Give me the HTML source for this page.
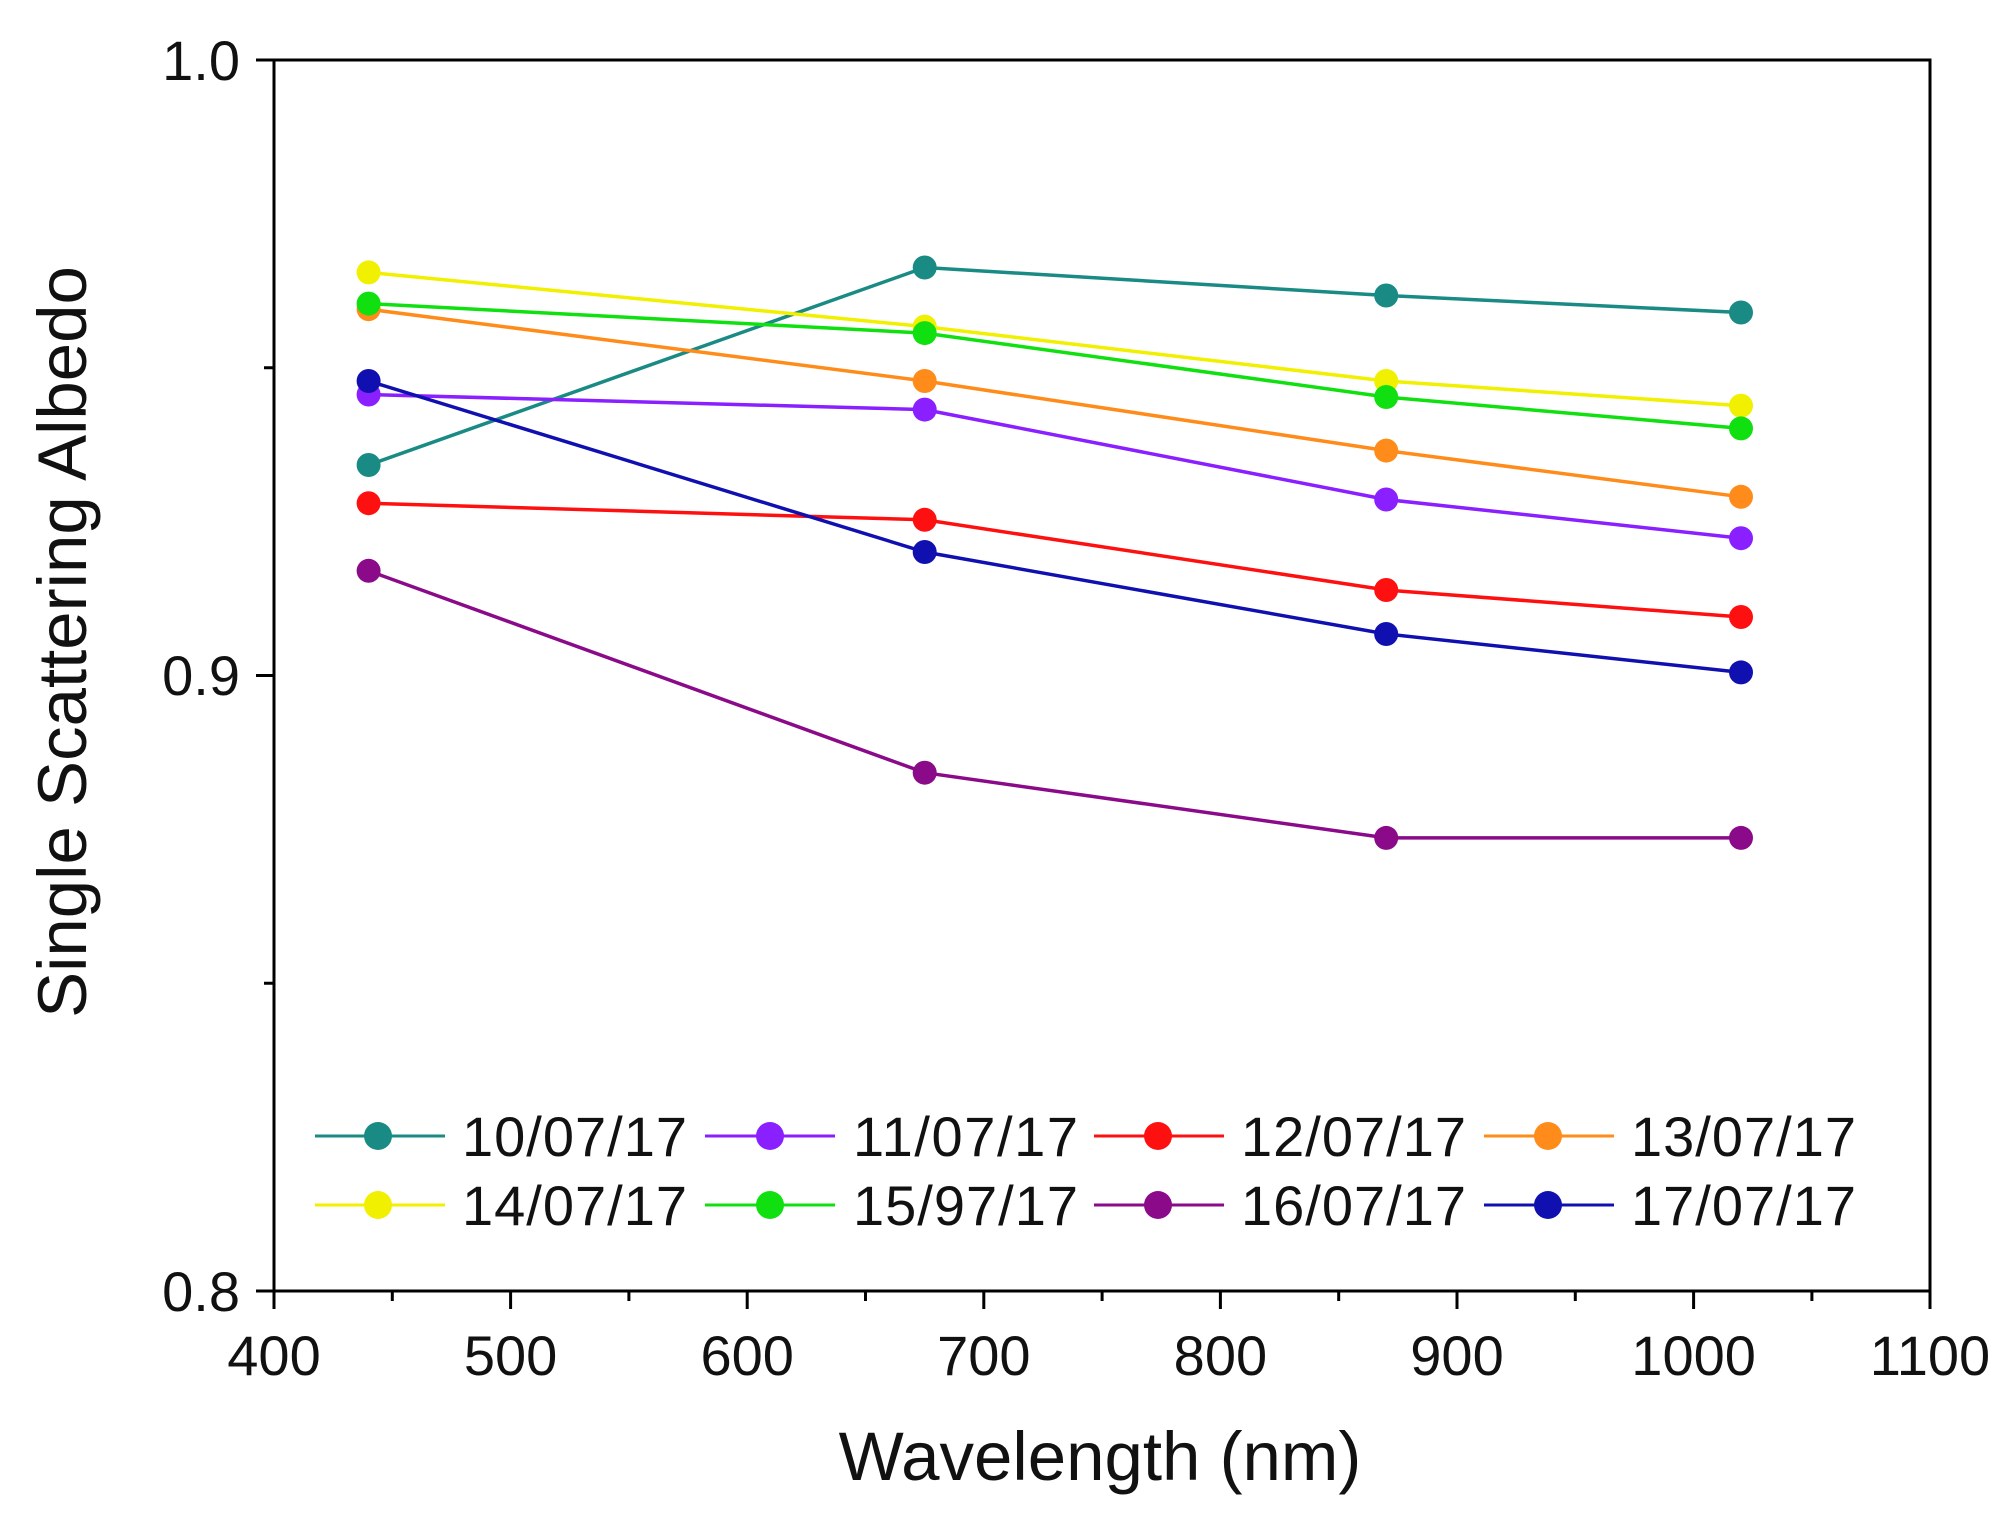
<!DOCTYPE html>
<html><head><style>html,body{margin:0;padding:0;background:#fff}</style></head><body>
<svg width="2011" height="1511" xmlns="http://www.w3.org/2000/svg" font-family="Liberation Sans, sans-serif">
<rect width="2011" height="1511" fill="#fff"/>
<g stroke="#000" stroke-width="3" fill="none">
<rect x="274" y="60" width="1656" height="1231"/>
<path d="M274 1291v18M510.6 1291v18M747.2 1291v18M983.8 1291v18M1220.4 1291v18M1457 1291v18M1693.6 1291v18M1930 1291v18"/>
<path d="M392.3 1291v10M628.9 1291v10M865.5 1291v10M1102.1 1291v10M1338.7 1291v10M1575.3 1291v10M1811.9 1291v10"/>
<path d="M256 60h18M256 675.5h18M256 1291h18M264 367.8h10M264 983.3h10"/>
</g>
<g font-size="56" fill="#111" text-anchor="end">
<text x="240" y="80">1.0</text><text x="240" y="695">0.9</text><text x="240" y="1311">0.8</text>
</g>
<g font-size="56" fill="#111" text-anchor="middle">
<text x="274" y="1375">400</text><text x="510.6" y="1375">500</text><text x="747.2" y="1375">600</text><text x="983.8" y="1375">700</text><text x="1220.4" y="1375">800</text><text x="1457" y="1375">900</text><text x="1693.6" y="1375">1000</text><text x="1930" y="1375">1100</text>
</g>
<text x="1100" y="1480" font-size="69" text-anchor="middle" fill="#111">Wavelength (nm)</text>
<text transform="translate(86,642) rotate(-90)" font-size="69" text-anchor="middle" fill="#111">Single Scattering Albedo</text>
<g stroke-width="3.5" fill="none">
<polyline stroke="#1a8a85" points="368.6,465 924.7,267.5 1386.2,295.5 1741,312.5"/>
<polyline stroke="#8a1fff" points="368.6,394.5 924.7,409.6 1386.2,499.5 1741,538.2"/>
<polyline stroke="#ff1010" points="368.6,503.2 924.7,519.8 1386.2,590 1741,617"/>
<polyline stroke="#ff8c1a" points="368.6,309.2 924.7,381 1386.2,450.6 1741,496.8"/>
<polyline stroke="#f0f000" points="368.6,272.4 924.7,326.6 1386.2,381 1741,405.7"/>
<polyline stroke="#10e010" points="368.6,303.6 924.7,333.1 1386.2,397 1741,428.4"/>
<polyline stroke="#8a0a8a" points="368.6,570.8 924.7,772.7 1386.2,837.9 1741,837.9"/>
<polyline stroke="#1010b0" points="368.6,381 924.7,552 1386.2,634 1741,672.4"/>
</g>
<g>
<g fill="#1a8a85"><circle cx="368.6" cy="465" r="12"/><circle cx="924.7" cy="267.5" r="12"/><circle cx="1386.2" cy="295.5" r="12"/><circle cx="1741" cy="312.5" r="12"/></g>
<g fill="#8a1fff"><circle cx="368.6" cy="394.5" r="12"/><circle cx="924.7" cy="409.6" r="12"/><circle cx="1386.2" cy="499.5" r="12"/><circle cx="1741" cy="538.2" r="12"/></g>
<g fill="#ff1010"><circle cx="368.6" cy="503.2" r="12"/><circle cx="924.7" cy="519.8" r="12"/><circle cx="1386.2" cy="590" r="12"/><circle cx="1741" cy="617" r="12"/></g>
<g fill="#ff8c1a"><circle cx="368.6" cy="309.2" r="12"/><circle cx="924.7" cy="381" r="12"/><circle cx="1386.2" cy="450.6" r="12"/><circle cx="1741" cy="496.8" r="12"/></g>
<g fill="#f0f000"><circle cx="368.6" cy="272.4" r="12"/><circle cx="924.7" cy="326.6" r="12"/><circle cx="1386.2" cy="381" r="12"/><circle cx="1741" cy="405.7" r="12"/></g>
<g fill="#10e010"><circle cx="368.6" cy="303.6" r="12"/><circle cx="924.7" cy="333.1" r="12"/><circle cx="1386.2" cy="397" r="12"/><circle cx="1741" cy="428.4" r="12"/></g>
<g fill="#8a0a8a"><circle cx="368.6" cy="570.8" r="12"/><circle cx="924.7" cy="772.7" r="12"/><circle cx="1386.2" cy="837.9" r="12"/><circle cx="1741" cy="837.9" r="12"/></g>
<g fill="#1010b0"><circle cx="368.6" cy="381" r="12"/><circle cx="924.7" cy="552" r="12"/><circle cx="1386.2" cy="634" r="12"/><circle cx="1741" cy="672.4" r="12"/></g>
</g>
<g stroke-width="3" font-size="56" fill="#111">
<g><line x1="315" y1="1136" x2="445" y2="1136" stroke="#1a8a85"/><circle cx="378" cy="1136" r="14" fill="#1a8a85"/><text x="462" y="1156" textLength="225">10/07/17</text></g>
<g><line x1="705" y1="1136" x2="835" y2="1136" stroke="#8a1fff"/><circle cx="770" cy="1136" r="14" fill="#8a1fff"/><text x="853" y="1156" textLength="225">11/07/17</text></g>
<g><line x1="1094" y1="1136" x2="1224" y2="1136" stroke="#ff1010"/><circle cx="1158" cy="1136" r="14" fill="#ff1010"/><text x="1241" y="1156" textLength="225">12/07/17</text></g>
<g><line x1="1484" y1="1136" x2="1614" y2="1136" stroke="#ff8c1a"/><circle cx="1548" cy="1136" r="14" fill="#ff8c1a"/><text x="1631" y="1156" textLength="225">13/07/17</text></g>
<g><line x1="315" y1="1205" x2="445" y2="1205" stroke="#f0f000"/><circle cx="378" cy="1205" r="14" fill="#f0f000"/><text x="462" y="1225" textLength="225">14/07/17</text></g>
<g><line x1="705" y1="1205" x2="835" y2="1205" stroke="#10e010"/><circle cx="770" cy="1205" r="14" fill="#10e010"/><text x="853" y="1225" textLength="225">15/97/17</text></g>
<g><line x1="1094" y1="1205" x2="1224" y2="1205" stroke="#8a0a8a"/><circle cx="1158" cy="1205" r="14" fill="#8a0a8a"/><text x="1241" y="1225" textLength="225">16/07/17</text></g>
<g><line x1="1484" y1="1205" x2="1614" y2="1205" stroke="#1010b0"/><circle cx="1548" cy="1205" r="14" fill="#1010b0"/><text x="1631" y="1225" textLength="225">17/07/17</text></g>
</g>
</svg>
</body></html>
